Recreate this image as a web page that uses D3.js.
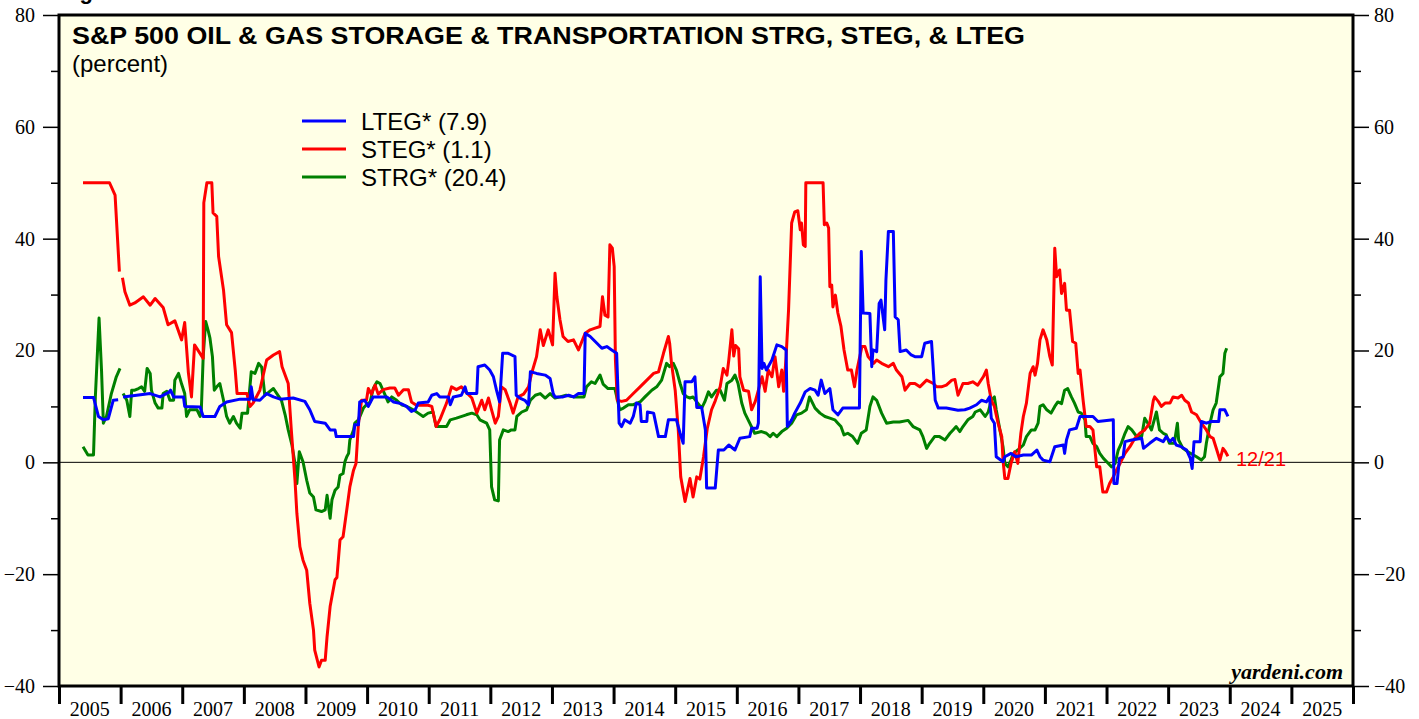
<!DOCTYPE html>
<html>
<head>
<meta charset="utf-8">
<script src="https://cdn.jsdelivr.net/npm/d3@7"></script>
<style>
  body { margin: 0; background: #fff; }
  svg { display: block; }
</style>
</head>
<body>
<script>
// ---- data (decimal year, percent); null marks a gap ----
var years = d3.range(2005, 2026);
var yMajor = [-40, -20, 0, 20, 40, 60, 80];
var yMinor = [-30, -10, 10, 30, 50, 70];

var lteg = [
  [2005.39,11.6],[2005.56,11.6],[2005.64,8.2],[2005.72,7.6],[2005.80,7.8],[2005.88,11.1],[2005.96,11.2],[2006.0,null],
  [2006.04,11.7],[2006.26,12.0],[2006.48,12.3],[2006.64,11.7],[2006.78,12.5],[2006.81,12.9],[2006.86,11.7],[2007.02,11.7],
  [2007.04,10.0],[2007.29,9.9],[2007.34,8.2],[2007.53,8.2],[2007.61,10.0],[2007.72,10.8],[2007.94,11.3],[2008.10,11.3],
  [2008.12,13.5],[2008.15,11.2],[2008.26,11.1],[2008.37,12.3],[2008.48,11.7],[2008.59,11.3],[2008.80,11.5],[2008.99,10.9],
  [2009.07,9.4],[2009.15,7.3],[2009.32,7.0],[2009.40,5.8],[2009.48,5.8],[2009.50,4.6],[2009.78,4.6],[2009.80,6.7],
  [2009.86,6.7],[2009.88,10.8],[2009.96,11.1],[2010.02,10.0],[2010.10,11.7],[2010.32,11.7],[2010.43,10.8],[2010.55,10.5],
  [2010.64,10.0],[2010.72,9.1],[2010.78,9.4],[2010.83,10.6],[2010.99,10.8],[2011.05,12.0],[2011.13,12.3],[2011.18,11.7],
  [2011.32,11.7],[2011.35,10.3],[2011.40,11.7],[2011.53,12.0],[2011.59,13.5],[2011.62,12.3],[2011.78,12.3],[2011.80,17.1],
  [2011.91,17.4],[2011.99,16.5],[2012.05,15.3],[2012.10,12.9],[2012.15,10.8],[2012.17,14.1],[2012.20,19.5],[2012.29,19.5],
  [2012.40,18.9],[2012.42,12.0],[2012.48,11.5],[2012.56,11.1],[2012.62,10.3],[2012.65,16.2],[2012.75,15.9],[2012.89,15.6],
  [2012.97,15.0],[2013.02,12.3],[2013.05,11.7],[2013.18,11.7],[2013.27,12.0],[2013.35,11.7],[2013.43,12.3],[2013.52,12.3],
  [2013.54,23.1],[2013.62,22.5],[2013.73,21.3],[2013.81,20.4],[2013.89,20.7],[2013.97,20.1],[2014.05,19.5],[2014.09,7.0],
  [2014.13,6.4],[2014.18,7.6],[2014.27,7.0],[2014.32,8.2],[2014.37,10.6],[2014.43,10.3],[2014.45,7.3],[2014.54,7.3],
  [2014.55,9.0],[2014.65,8.8],[2014.73,4.6],[2014.84,4.6],[2014.89,7.6],[2015.02,7.6],[2015.08,5.2],[2015.13,3.4],
  [2015.16,14.4],[2015.27,14.4],[2015.32,15.3],[2015.35,9.8],[2015.43,9.8],[2015.49,5.8],[2015.51,-4.6],[2015.65,-4.6],
  [2015.70,2.2],[2015.79,2.2],[2015.87,3.1],[2015.97,2.2],[2016.05,4.3],[2016.21,4.6],[2016.24,6.1],[2016.33,6.1],
  [2016.35,7.0],[2016.38,33.2],[2016.41,16.8],[2016.44,17.7],[2016.48,16.5],[2016.57,18.3],[2016.65,21.0],[2016.73,20.7],
  [2016.80,20.1],[2016.82,6.4],[2016.89,7.6],[2016.94,8.8],[2017.03,10.6],[2017.11,12.6],[2017.19,13.2],[2017.27,12.9],
  [2017.32,12.0],[2017.37,14.7],[2017.43,12.3],[2017.51,13.2],[2017.56,9.4],[2017.64,8.5],[2017.72,9.7],[2017.99,9.7],
  [2018.02,37.7],[2018.05,26.7],[2018.16,26.6],[2018.19,17.1],[2018.21,20.1],[2018.27,19.8],[2018.31,28.4],[2018.34,29.0],
  [2018.40,23.7],[2018.42,32.6],[2018.46,41.3],[2018.54,41.3],[2018.57,26.0],[2018.62,25.5],[2018.65,19.8],[2018.75,20.1],
  [2018.83,19.2],[2018.89,18.9],[2019.00,18.9],[2019.05,21.3],[2019.16,21.6],[2019.22,11.1],[2019.27,9.7],[2019.40,9.7],
  [2019.59,9.3],[2019.70,9.4],[2019.78,9.7],[2019.89,10.3],[2019.97,11.1],[2020.05,10.8],[2020.10,11.7],[2020.13,7.9],
  [2020.18,7.0],[2020.21,1.0],[2020.32,0.1],[2020.35,1.0],[2020.45,1.6],[2020.53,1.0],[2020.65,1.3],[2020.78,1.3],
  [2020.87,2.2],[2020.92,1.0],[2020.97,0.4],[2021.08,0.1],[2021.16,2.8],[2021.30,3.1],[2021.32,1.6],[2021.35,4.0],
  [2021.40,5.8],[2021.51,6.1],[2021.57,8.2],[2021.78,8.2],[2021.86,7.3],[2022.11,7.6],[2022.12,-3.8],[2022.17,-3.8],
  [2022.21,0.7],[2022.27,1.0],[2022.30,3.7],[2022.41,4.0],[2022.57,4.3],[2022.60,2.5],[2022.70,3.4],[2022.81,4.3],
  [2022.92,3.7],[2022.97,4.6],[2023.03,3.7],[2023.08,4.3],[2023.13,3.1],[2023.21,2.8],[2023.30,2.2],[2023.36,0.7],
  [2023.39,-1.1],[2023.42,3.7],[2023.52,3.7],[2023.54,7.3],[2023.62,7.0],[2023.70,7.3],[2023.82,7.3],[2023.84,9.4],
  [2023.92,9.4],[2023.97,8.2]
];

var steg = [
  [2005.39,50],[2005.82,50],[2005.91,47.8],[2005.98,34.1],[2006.0,null],
  [2006.03,33.0],[2006.07,30.5],[2006.15,28.1],[2006.23,28.5],[2006.37,29.6],[2006.48,28.1],[2006.56,29.3],[2006.69,27.7],
  [2006.77,24.6],[2006.88,25.3],[2006.99,21.9],[2007.04,25.0],[2007.10,16.0],[2007.15,11.7],[2007.20,21.0],[2007.34,18.6],
  [2007.35,46.4],[2007.40,50],[2007.48,50],[2007.50,44.6],[2007.56,44.0],[2007.59,36.8],[2007.67,30.8],[2007.72,24.6],
  [2007.80,23.2],[2007.86,16.5],[2007.89,12.3],[2008.05,12.3],[2008.10,10.0],[2008.15,10.6],[2008.26,12.9],[2008.37,18.3],
  [2008.48,19.2],[2008.58,19.8],[2008.62,17.1],[2008.72,14.1],[2008.77,5.8],[2008.83,-3.2],[2008.86,-9.1],[2008.91,-15.1],
  [2008.96,-17.5],[2009.02,-19.3],[2009.07,-25.2],[2009.13,-30.0],[2009.15,-33.6],[2009.22,-36.6],[2009.26,-35.4],[2009.32,-35.4],
  [2009.35,-31.2],[2009.40,-25.8],[2009.48,-21.0],[2009.51,-20.6],[2009.56,-13.9],[2009.61,-13.3],[2009.67,-8.5],[2009.72,-4.4],
  [2009.78,-1.4],[2009.82,-0.2],[2009.86,7.0],[2009.91,11.1],[2009.99,11.1],[2010.02,13.2],[2010.07,12.2],[2010.13,13.8],
  [2010.18,12.2],[2010.26,13.0],[2010.37,13.3],[2010.45,13.3],[2010.51,12.0],[2010.59,13.0],[2010.67,13.0],[2010.72,10.8],
  [2010.80,10.2],[2010.99,10.2],[2011.05,10.0],[2011.07,9.0],[2011.12,6.4],[2011.18,7.6],[2011.29,10.6],[2011.37,13.5],
  [2011.45,13.0],[2011.53,13.5],[2011.61,12.5],[2011.70,11.5],[2011.78,8.8],[2011.86,11.1],[2011.91,9.4],[2011.97,11.5],
  [2012.02,9.4],[2012.08,7.0],[2012.13,8.2],[2012.18,13.5],[2012.24,13.0],[2012.32,10.6],[2012.37,8.8],[2012.45,11.7],
  [2012.54,12.2],[2012.62,13.5],[2012.67,15.9],[2012.75,18.9],[2012.81,23.7],[2012.86,20.9],[2012.94,23.7],[2013.01,21.0],
  [2013.05,33.8],[2013.08,29.6],[2013.13,25.5],[2013.18,22.5],[2013.26,21.6],[2013.35,21.9],[2013.43,20.1],[2013.54,23.1],
  [2013.62,23.7],[2013.70,24.0],[2013.78,24.3],[2013.82,29.6],[2013.86,26.3],[2013.91,26.0],[2013.94,38.9],[2013.98,38.3],
  [2014.01,35.0],[2014.03,18.3],[2014.06,11.1],[2014.13,10.9],[2014.21,11.1],[2014.32,12.3],[2014.43,13.5],[2014.54,14.7],
  [2014.65,15.9],[2014.73,16.2],[2014.81,19.5],[2014.89,22.5],[2014.91,21.3],[2014.94,17.7],[2015.00,12.9],[2015.05,5.8],
  [2015.09,-2.6],[2015.16,-7.0],[2015.24,-2.9],[2015.29,-6.2],[2015.35,-2.6],[2015.40,-3.0],[2015.46,1.0],[2015.52,6.0],
  [2015.59,9.4],[2015.65,11.0],[2015.73,13.5],[2015.78,16.8],[2015.84,15.6],[2015.87,18.3],[2015.92,23.7],[2015.95,19.0],
  [2015.98,20.9],[2016.03,20.3],[2016.05,15.3],[2016.11,12.9],[2016.19,12.7],[2016.24,9.4],[2016.30,10.9],[2016.35,12.9],
  [2016.41,15.3],[2016.46,12.7],[2016.51,16.5],[2016.57,15.3],[2016.62,18.9],[2016.68,13.5],[2016.73,16.5],[2016.76,12.7],
  [2016.80,18.9],[2016.84,27.3],[2016.89,42.8],[2016.94,44.8],[2016.99,45.0],[2017.03,41.6],[2017.05,42.8],[2017.08,38.9],
  [2017.11,38.6],[2017.12,50],[2017.40,50],[2017.42,42.5],[2017.46,42.8],[2017.49,41.9],[2017.51,31.4],[2017.54,31.7],
  [2017.56,27.8],[2017.60,29.9],[2017.64,26.7],[2017.69,24.3],[2017.74,20.1],[2017.80,16.5],[2017.86,16.5],[2017.91,13.5],
  [2017.95,16.5],[2018.03,20.7],[2018.08,20.7],[2018.13,18.9],[2018.22,17.7],[2018.27,18.3],[2018.35,17.7],[2018.46,17.1],
  [2018.54,17.7],[2018.59,16.5],[2018.68,15.3],[2018.73,12.9],[2018.81,14.1],[2018.89,14.1],[2018.97,13.5],[2019.08,14.7],
  [2019.19,14.1],[2019.24,13.5],[2019.32,13.5],[2019.40,13.8],[2019.49,14.7],[2019.54,14.8],[2019.59,12.0],[2019.67,14.1],
  [2019.75,14.1],[2019.83,14.4],[2019.91,13.8],[2020.00,15.3],[2020.05,16.5],[2020.08,14.1],[2020.13,11.1],[2020.18,10.0],
  [2020.24,7.0],[2020.30,4.6],[2020.32,0.4],[2020.35,-2.9],[2020.40,-2.9],[2020.45,-0.2],[2020.51,1.9],[2020.56,-0.2],
  [2020.61,5.2],[2020.65,8.2],[2020.70,10.6],[2020.76,15.9],[2020.81,17.1],[2020.84,15.6],[2020.88,17.7],[2020.92,21.9],
  [2020.97,23.7],[2021.03,21.9],[2021.08,18.9],[2021.12,17.4],[2021.16,38.3],[2021.19,33.2],[2021.24,34.4],[2021.27,30.2],
  [2021.32,32.0],[2021.35,27.2],[2021.40,27.2],[2021.45,21.6],[2021.50,21.3],[2021.54,15.9],[2021.57,16.5],[2021.62,11.1],
  [2021.67,6.4],[2021.73,6.4],[2021.78,5.8],[2021.84,-0.8],[2021.89,-0.8],[2021.94,-5.3],[2022.00,-5.3],[2022.05,-3.8],
  [2022.11,-2.6],[2022.16,-1.4],[2022.22,-0.2],[2022.30,1.6],[2022.38,2.8],[2022.46,4.3],[2022.54,5.2],[2022.62,5.8],
  [2022.70,7.0],[2022.76,11.1],[2022.78,11.7],[2022.84,10.9],[2022.89,10.0],[2022.95,10.6],[2023.03,10.6],[2023.08,11.7],
  [2023.16,11.5],[2023.22,12.0],[2023.27,11.1],[2023.33,10.6],[2023.38,9.0],[2023.46,8.5],[2023.54,7.0],[2023.62,5.8],
  [2023.68,4.6],[2023.73,4.3],[2023.79,2.2],[2023.84,0.4],[2023.89,2.5],[2023.93,1.9],[2023.97,1.1]
];

var strg = [
  [2005.39,2.8],[2005.47,1.3],[2005.56,1.3],[2005.59,11.7],[2005.65,25.8],[2005.69,16.5],[2005.72,7.0],[2005.77,8.2],
  [2005.85,12.3],[2005.93,15.3],[2005.99,16.8],[2006.01,null],
  [2006.04,12.3],[2006.10,11.1],[2006.15,8.2],[2006.18,12.9],[2006.23,12.9],[2006.29,13.2],[2006.34,13.5],[2006.39,12.7],
  [2006.43,16.8],[2006.48,15.9],[2006.50,12.9],[2006.56,10.6],[2006.61,9.7],[2006.67,9.7],[2006.69,12.3],[2006.75,12.7],
  [2006.80,11.1],[2006.86,11.1],[2006.88,14.7],[2006.94,15.9],[2006.99,14.0],[2007.04,12.3],[2007.07,8.2],[2007.12,9.4],
  [2007.18,9.4],[2007.24,9.4],[2007.29,8.2],[2007.31,9.4],[2007.34,18.9],[2007.38,25.2],[2007.42,23.6],[2007.45,22.2],
  [2007.49,18.9],[2007.52,12.9],[2007.56,13.5],[2007.61,14.1],[2007.67,11.1],[2007.72,8.2],[2007.77,7.0],[2007.83,8.2],
  [2007.88,7.0],[2007.94,6.1],[2007.97,8.8],[2008.06,8.8],[2008.12,16.2],[2008.18,15.9],[2008.24,17.7],[2008.29,17.0],
  [2008.34,12.0],[2008.40,12.5],[2008.48,13.2],[2008.56,11.9],[2008.61,11.1],[2008.67,8.5],[2008.72,5.8],[2008.78,3.1],
  [2008.83,-0.2],[2008.86,-3.8],[2008.90,1.9],[2008.96,0.1],[2009.02,-3.2],[2009.07,-5.5],[2009.13,-6.2],[2009.17,-8.5],
  [2009.26,-8.8],[2009.32,-8.5],[2009.35,-5.9],[2009.40,-10.0],[2009.43,-6.7],[2009.48,-5.0],[2009.53,-4.4],[2009.56,-2.3],
  [2009.61,-2.0],[2009.64,0.1],[2009.67,1.0],[2009.70,1.6],[2009.72,4.0],[2009.78,5.8],[2009.80,7.0],[2009.86,7.6],
  [2009.94,9.7],[2009.99,10.3],[2010.05,10.8],[2010.10,13.2],[2010.16,14.4],[2010.21,14.1],[2010.27,12.6],[2010.34,10.8],
  [2010.40,11.7],[2010.48,11.1],[2010.56,10.3],[2010.64,10.0],[2010.75,9.4],[2010.83,8.8],[2010.91,8.2],[2010.99,8.8],
  [2011.07,9.0],[2011.12,6.4],[2011.29,6.4],[2011.35,7.6],[2011.45,7.9],[2011.61,8.5],[2011.70,8.8],[2011.78,8.5],
  [2011.83,7.6],[2011.94,7.0],[2011.99,5.8],[2012.02,-4.4],[2012.07,-6.7],[2012.13,-6.9],[2012.15,4.0],[2012.21,5.8],
  [2012.29,5.5],[2012.34,5.8],[2012.40,5.8],[2012.43,8.2],[2012.51,9.0],[2012.59,9.4],[2012.65,11.1],[2012.73,12.0],
  [2012.81,12.3],[2012.89,11.5],[2012.97,12.3],[2013.05,11.5],[2013.13,11.7],[2013.23,12.0],[2013.35,11.7],[2013.45,11.7],
  [2013.52,11.7],[2013.56,13.5],[2013.64,14.4],[2013.70,14.1],[2013.78,15.6],[2013.83,14.0],[2013.91,13.2],[2014.02,13.2],
  [2014.10,9.4],[2014.16,9.7],[2014.24,10.3],[2014.32,10.3],[2014.43,10.8],[2014.51,11.7],[2014.62,12.9],[2014.70,13.5],
  [2014.78,14.7],[2014.86,17.7],[2014.91,17.1],[2014.97,17.7],[2015.02,16.5],[2015.08,14.1],[2015.13,12.3],[2015.19,11.7],
  [2015.24,11.5],[2015.29,11.7],[2015.35,10.8],[2015.43,9.7],[2015.48,10.8],[2015.54,12.6],[2015.59,11.7],[2015.67,12.9],
  [2015.73,12.9],[2015.80,11.1],[2015.84,14.1],[2015.92,14.7],[2015.97,15.6],[2016.02,14.1],[2016.08,10.6],[2016.13,8.8],
  [2016.21,7.0],[2016.29,5.2],[2016.40,5.5],[2016.48,5.2],[2016.54,4.6],[2016.59,5.2],[2016.65,4.6],[2016.73,5.5],
  [2016.81,6.1],[2016.89,7.0],[2016.97,8.5],[2017.05,8.8],[2017.13,9.4],[2017.18,11.7],[2017.27,9.7],[2017.35,8.8],
  [2017.43,8.2],[2017.51,7.9],[2017.59,7.6],[2017.64,7.0],[2017.69,6.4],[2017.74,4.9],[2017.80,5.2],[2017.88,4.6],
  [2017.96,3.4],[2018.02,5.2],[2018.10,5.8],[2018.16,10.0],[2018.21,11.7],[2018.27,11.1],[2018.35,8.8],[2018.43,7.0],
  [2018.54,7.2],[2018.64,7.2],[2018.78,7.5],[2018.86,6.4],[2018.97,5.8],[2019.02,4.6],[2019.08,2.5],[2019.13,3.4],
  [2019.21,4.6],[2019.29,4.6],[2019.38,4.0],[2019.46,5.2],[2019.51,5.8],[2019.56,6.4],[2019.62,5.5],[2019.67,6.4],
  [2019.75,7.6],[2019.83,8.2],[2019.87,9.0],[2019.95,9.4],[2020.03,8.2],[2020.08,9.0],[2020.13,11.1],[2020.18,11.7],
  [2020.21,9.4],[2020.27,5.8],[2020.32,2.8],[2020.35,-0.2],[2020.40,-0.8],[2020.45,0.4],[2020.49,1.6],[2020.56,2.2],
  [2020.65,3.1],[2020.70,4.6],[2020.78,5.8],[2020.84,5.8],[2020.89,7.0],[2020.92,10.0],[2020.97,10.3],[2021.03,9.4],
  [2021.10,8.8],[2021.16,10.0],[2021.21,10.8],[2021.27,10.5],[2021.32,12.9],[2021.37,13.2],[2021.43,11.7],[2021.48,10.6],
  [2021.54,9.0],[2021.59,8.8],[2021.65,7.6],[2021.67,4.6],[2021.73,4.6],[2021.78,3.4],[2021.84,2.8],[2021.89,1.6],
  [2021.95,0.7],[2022.03,-0.2],[2022.08,-0.8],[2022.14,-0.2],[2022.19,2.2],[2022.24,3.4],[2022.30,5.2],[2022.35,6.4],
  [2022.41,5.8],[2022.49,4.6],[2022.57,4.6],[2022.62,7.9],[2022.67,7.0],[2022.73,5.8],[2022.76,7.0],[2022.81,9.0],
  [2022.86,5.8],[2022.92,5.2],[2022.97,4.9],[2023.02,3.4],[2023.10,3.4],[2023.15,7.0],[2023.17,4.0],[2023.24,2.5],
  [2023.32,1.9],[2023.46,1.0],[2023.54,0.4],[2023.59,1.0],[2023.62,3.4],[2023.68,7.0],[2023.73,9.4],[2023.78,10.6],
  [2023.84,15.3],[2023.89,15.9],[2023.92,19.5],[2023.95,20.4]
];

var seriesNames = ['LTEG* (7.9)', 'STEG* (1.1)', 'STRG* (20.4)'];
var seriesColors = ['#0000ff', '#ff0000', '#008000'];

// ---- layout ----
var W = 1419, H = 719;
var L = 59, R = 1353, T = 15, B = 686;

var svg = d3.select('body').append('svg')
  .attr('width', W).attr('height', H);

var x = d3.scaleLinear().domain([2005, 2026]).range([L, R]);
var y = d3.scaleLinear().domain([-40, 80]).range([B, T]);

// plot background
svg.append('rect')
  .attr('x', L).attr('y', T).attr('width', R - L).attr('height', B - T)
  .attr('fill', '#ffffe6');

svg.append('clipPath').attr('id', 'plotclip')
  .append('rect').attr('x', L).attr('y', T).attr('width', R - L).attr('height', B - T);

// zero line
svg.append('line')
  .attr('x1', L).attr('x2', R).attr('y1', y(0)).attr('y2', y(0))
  .attr('stroke', '#000').attr('stroke-width', 1);

// axes
function styleAxis(g, w) {
  g.select('.domain').remove();
  g.selectAll('line').attr('stroke', '#000').attr('stroke-width', w);
  g.selectAll('text')
    .attr('font-family', '"Liberation Serif", "Times New Roman", serif')
    .attr('font-size', 20).attr('fill', '#000');
}

svg.append('g').attr('transform', 'translate(' + L + ',0)')
  .call(d3.axisLeft(y).tickValues(yMajor).tickSize(16).tickPadding(8))
  .call(styleAxis, 1.5);
svg.append('g').attr('transform', 'translate(' + L + ',0)')
  .call(d3.axisLeft(y).tickValues(yMinor).tickSize(8).tickFormat(''))
  .call(styleAxis, 1.5);
svg.append('g').attr('transform', 'translate(' + R + ',0)')
  .call(d3.axisRight(y).tickValues(yMajor).tickSize(16).tickPadding(5))
  .call(styleAxis, 1.5);
svg.append('g').attr('transform', 'translate(' + R + ',0)')
  .call(d3.axisRight(y).tickValues(yMinor).tickSize(8).tickFormat(''))
  .call(styleAxis, 1.5);

svg.append('g').attr('transform', 'translate(0,' + B + ')')
  .call(d3.axisBottom(x).tickValues(d3.range(2005, 2027)).tickSize(18).tickFormat(''))
  .call(styleAxis, 3);

svg.append('g').selectAll('text').data(years).join('text')
  .attr('x', function(d){ return x(d + 0.5); })
  .attr('y', 716)
  .attr('text-anchor', 'middle')
  .attr('font-family', '"Liberation Serif", "Times New Roman", serif')
  .attr('font-size', 20)
  .text(function(d){ return d; });

// series lines (green under red under blue)
var line = d3.line()
  .defined(function(d){ return d[1] !== null; })
  .x(function(d){ return x(d[0]); })
  .y(function(d){ return y(d[1]); });

var plot = svg.append('g').attr('clip-path', 'url(#plotclip)');
[[strg, seriesColors[2]], [steg, seriesColors[1]], [lteg, seriesColors[0]]].forEach(function(s){
  plot.append('path')
    .attr('d', line(s[0]))
    .attr('fill', 'none')
    .attr('stroke', s[1])
    .attr('stroke-width', 3)
    .attr('stroke-linejoin', 'round');
});

// plot frame
svg.append('rect')
  .attr('x', L).attr('y', T).attr('width', R - L).attr('height', B - T)
  .attr('fill', 'none').attr('stroke', '#000').attr('stroke-width', 3);

// titles
var sans = '"Liberation Sans", Arial, Helvetica, sans-serif';
svg.append('text').attr('x', 60).attr('y', -1)
  .attr('font-family', sans).attr('font-weight', 'bold').attr('font-size', 22)
  .text('Figure 3.');
svg.append('text').attr('x', 72).attr('y', 44)
  .attr('font-family', sans).attr('font-weight', 'bold').attr('font-size', 24)
  .attr('textLength', 953).attr('lengthAdjust', 'spacingAndGlyphs')
  .text('S&P 500 OIL & GAS STORAGE & TRANSPORTATION STRG, STEG, & LTEG');
svg.append('text').attr('x', 72).attr('y', 72)
  .attr('font-family', sans).attr('font-size', 24)
  .text('(percent)');

// legend
var legendY = [121, 149, 177];
var legend = svg.append('g');
seriesNames.forEach(function(name, i){
  legend.append('line')
    .attr('x1', 302).attr('x2', 346).attr('y1', legendY[i]).attr('y2', legendY[i])
    .attr('stroke', seriesColors[i]).attr('stroke-width', 3);
  legend.append('text')
    .attr('x', 361).attr('y', legendY[i] + 8.5)
    .attr('font-family', sans).attr('font-size', 24)
    .text(name);
});

// end-date label
svg.append('text').attr('x', 1236).attr('y', 466)
  .attr('font-family', sans).attr('font-size', 20).attr('fill', '#ff0000')
  .text('12/21');

// source
svg.append('text').attr('x', 1343).attr('y', 679)
  .attr('text-anchor', 'end')
  .attr('font-family', '"Liberation Serif", "Times New Roman", serif')
  .attr('font-weight', 'bold').attr('font-style', 'italic').attr('font-size', 22)
  .text('yardeni.com');
</script>
</body>
</html>
